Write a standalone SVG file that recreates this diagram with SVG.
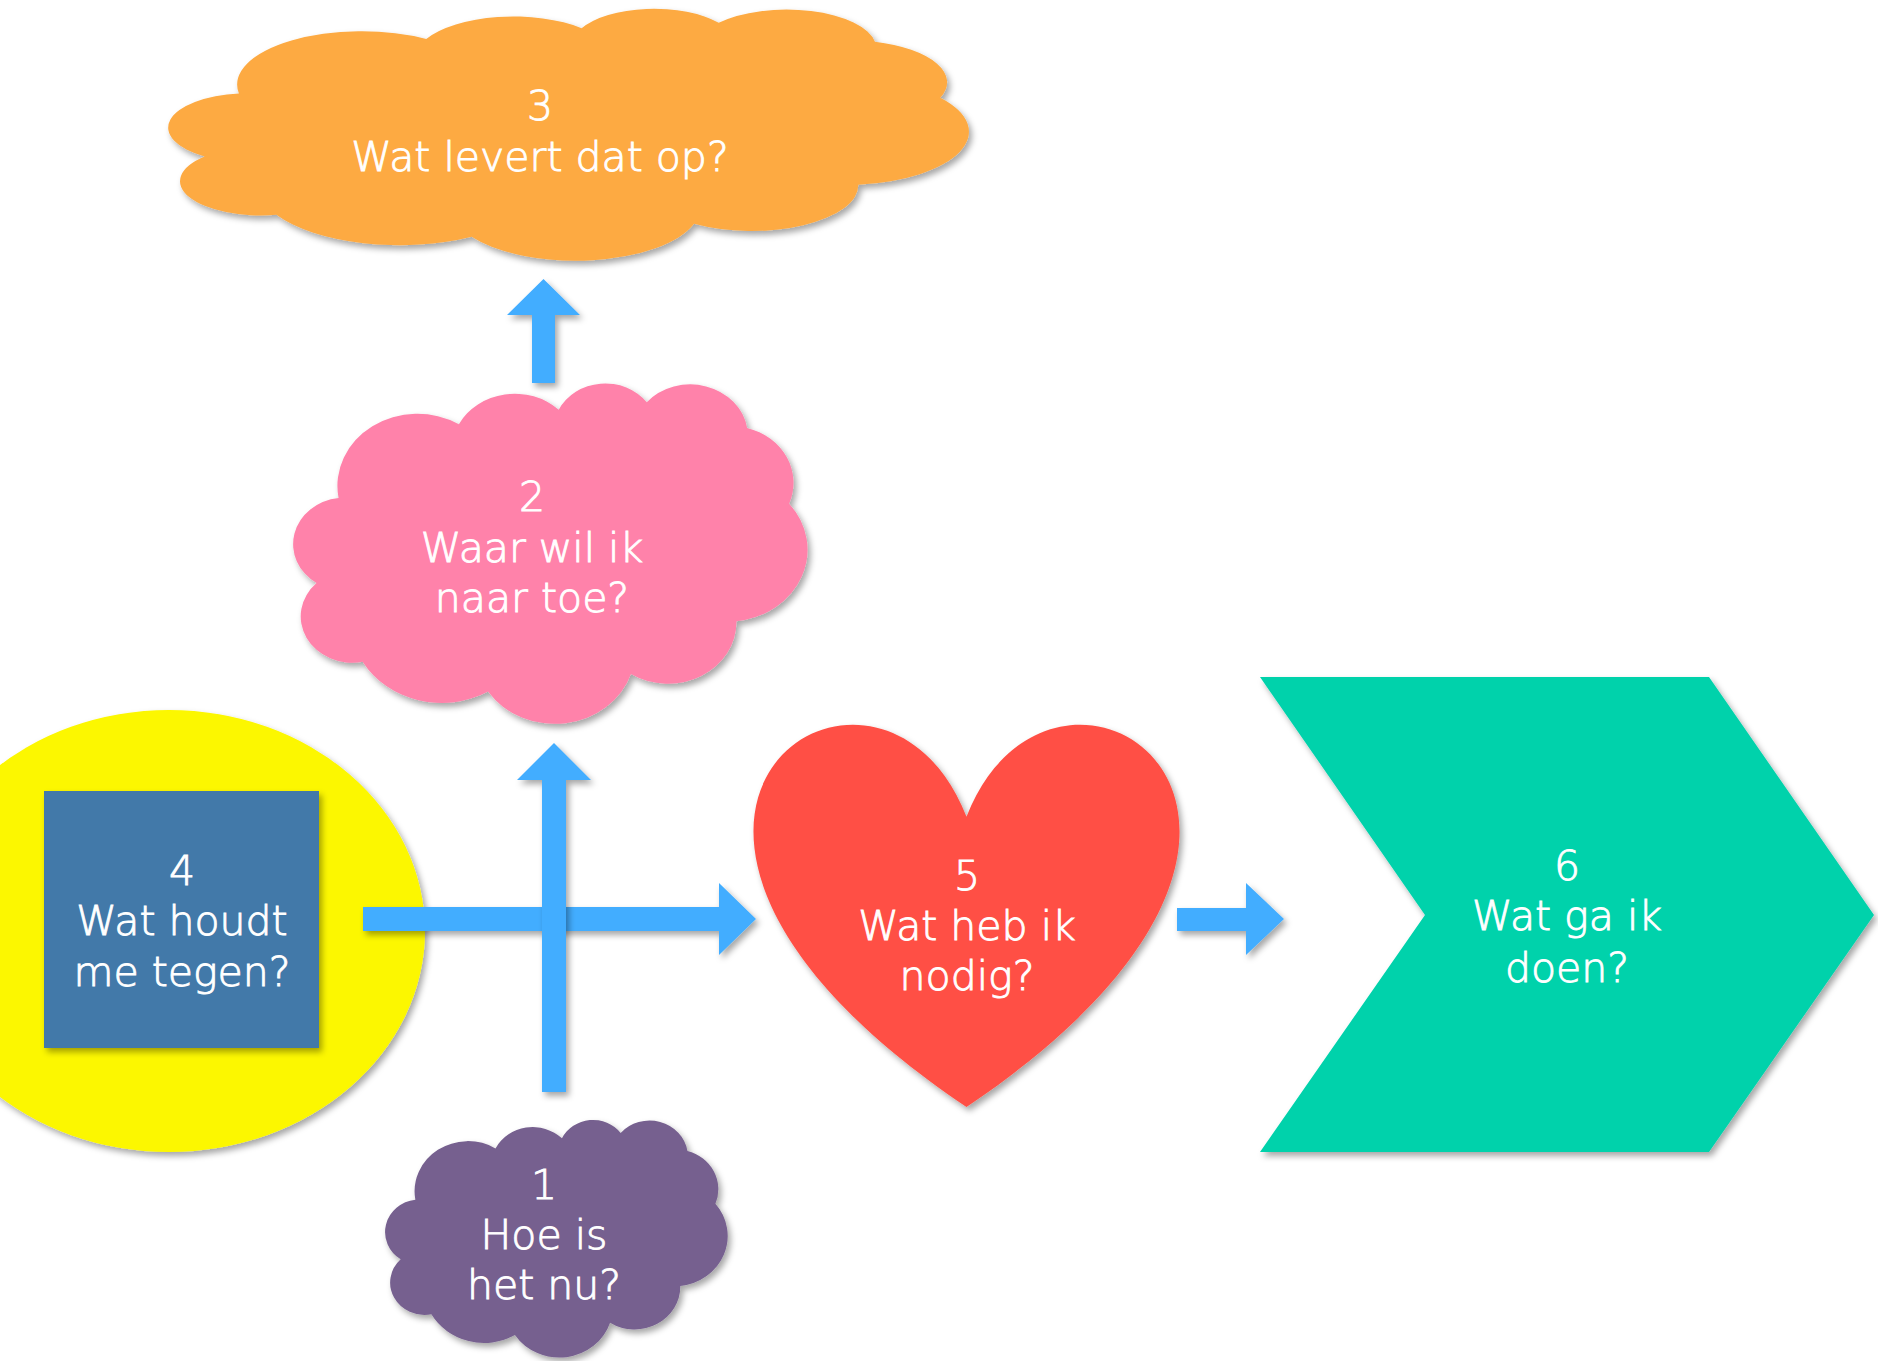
<svg xmlns="http://www.w3.org/2000/svg" width="1878" height="1361" viewBox="0 0 1878 1361">
<defs>
<filter id="sh" x="-10%" y="-10%" width="125%" height="125%">
<feDropShadow dx="3" dy="4" stdDeviation="3" flood-color="#000" flood-opacity="0.35"/>
</filter>
<path id="cloud" d="M 8.9 33.4 A 15.63 21.27 0 0 1 32.4 11.6 A 12.34 16.82 0 0 1 51.9 7.3 A 10.10 13.76 0 0 1 69.1 5.1 A 11.24 15.27 0 0 1 88.7 12.7 A 12.34 16.84 0 0 1 96.9 35.1 A 15.68 21.34 0 0 1 86.6 69.9 A 13.39 18.21 0 0 1 66.0 85.5 A 15.63 21.33 0 0 1 38.1 90.7 A 17.87 24.41 0 0 1 13.6 81.9 A 10.09 13.70 0 0 1 4.6 58.6 A 10.06 13.76 0 0 1 8.9 33.4 Z"/>
</defs>
<style>
.t{font-family:"DejaVu Sans","Liberation Sans",sans-serif;font-size:41px;font-weight:200;fill:#fff;stroke:#fff;stroke-width:0.9px;text-anchor:middle}
.arrow{fill:#42ADFF}
</style>
<rect width="1878" height="1361" fill="#ffffff"/>

<g id="node4">
<g filter="url(#sh)"><ellipse cx="169" cy="931" rx="256" ry="221" fill="#FCF700"/></g>
<g filter="url(#sh)"><rect x="44" y="791" width="275" height="257" fill="#4279A9"/></g>
<text class="t" x="182" y="885">4</text>
<text class="t" x="182" y="935">Wat houdt</text>
<text class="t" x="182" y="986">me tegen?</text>
</g>

<g id="connectors">
<g filter="url(#sh)"><polygon class="arrow" points="532,383 532,315 507,315 543.5,279 580,315 555,315 555,383"/></g>
<g filter="url(#sh)"><polygon class="arrow" points="363,907 719,907 719,883 756,919 719,955 719,931 363,931"/></g>
<g filter="url(#sh)"><polygon class="arrow" points="542,1092 542,780 517,780 554,743 591,780 566,780 566,1092"/></g>
<g filter="url(#sh)"><polygon class="arrow" points="1177,908 1246,908 1246,883 1284,919 1246,955 1246,931 1177,931"/></g>
</g>

<g id="node3">
<g filter="url(#sh)"><use href="#cloud" fill="#FDAA43" transform="translate(168,10) scale(7.97,2.50)"/></g>
<text class="t" x="540" y="120">3</text>
<text class="t" x="540" y="171">Wat levert dat op?</text>
</g>

<g id="node2">
<g filter="url(#sh)"><use href="#cloud" fill="#FF82AA" transform="translate(293,385) scale(5.12,3.38)"/></g>
<text class="t" x="532" y="511">2</text>
<text class="t" x="532" y="562">Waar wil ik</text>
<text class="t" x="532" y="612">naar toe?</text>
</g>

<g id="node1">
<g filter="url(#sh)"><use href="#cloud" fill="#76608F" transform="translate(385,1121) scale(3.41,2.36)"/></g>
<text class="t" x="544" y="1199">1</text>
<text class="t" x="544" y="1249">Hoe is</text>
<text class="t" x="544" y="1299">het nu?</text>
</g>

<g id="node5">
<g filter="url(#sh)"><path d="M 966.5 816.75 C 1054.6 591 1398.3 816.75 966.5 1107 C 534.7 816.75 878.4 591 966.5 816.75 Z" fill="#FF4F44"/></g>
<text class="t" x="967" y="890">5</text>
<text class="t" x="967" y="940">Wat heb ik</text>
<text class="t" x="967" y="990">nodig?</text>
</g>

<g id="node6">
<g filter="url(#sh)"><polygon points="1260,677 1709,677 1874,915 1709,1152 1260,1152 1425,915" fill="#00D2AB"/></g>
<text class="t" x="1567" y="880">6</text>
<text class="t" x="1567" y="930">Wat ga ik</text>
<text class="t" x="1567" y="982">doen?</text>
</g>
</svg>
